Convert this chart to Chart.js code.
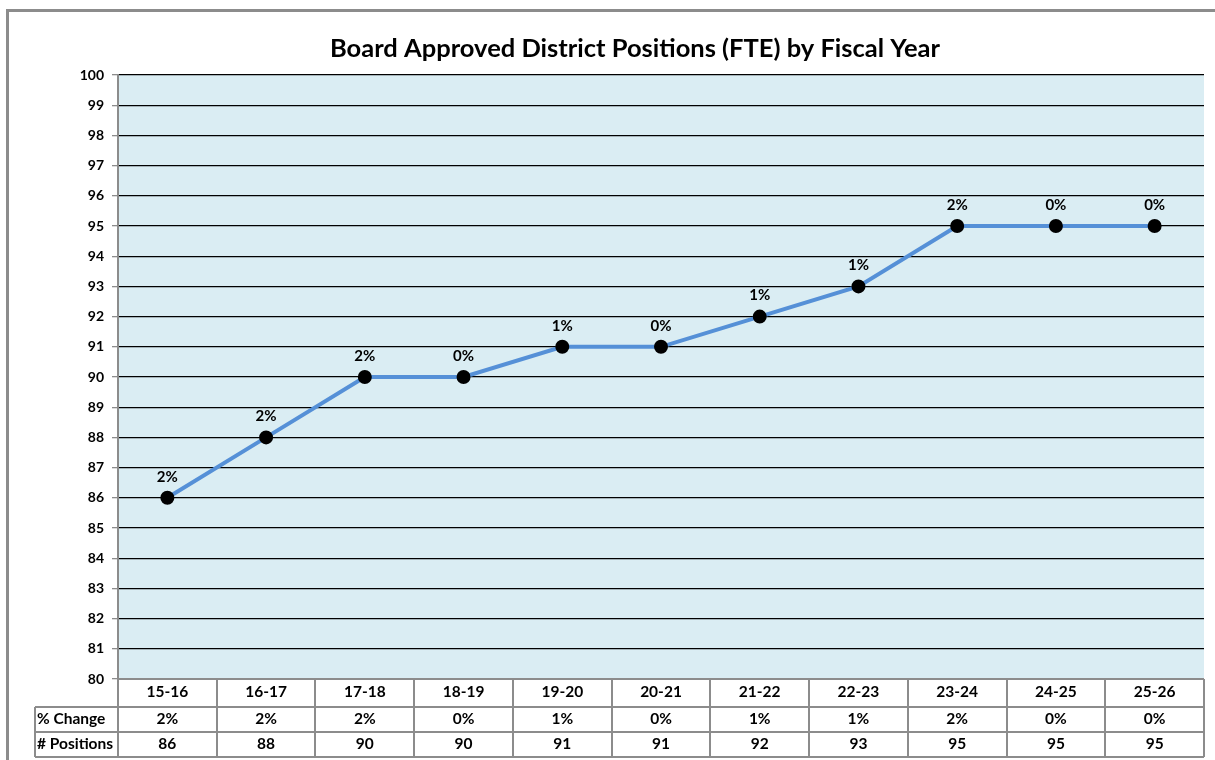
<!DOCTYPE html>
<html>
<head>
<meta charset="utf-8">
<script src="https://cdn.jsdelivr.net/npm/chart.js@4.4.1/dist/chart.umd.min.js"></script>
<style>
  html, body { margin: 0; padding: 0; background: #fff; }
  #wrap { width: 1215px; height: 760px; }
</style>
</head>
<body>
<div id="wrap"><canvas id="myChart" width="1215" height="760"></canvas></div>
<script>
const years = ["15-16", "16-17", "17-18", "18-19", "19-20", "20-21", "21-22", "22-23", "23-24", "24-25", "25-26"];
const positions = [86, 88, 90, 90, 91, 91, 92, 93, 95, 95, 95];
const pctChange = ["2%", "2%", "2%", "0%", "1%", "0%", "1%", "1%", "2%", "0%", "0%"];
const rowLabels = ["% Change", "# Positions"];
const chartTitle = "Board Approved District Positions (FTE) by Fiscal Year";

const FONT = "Lato, 'Liberation Sans', sans-serif";

// frame, title, point labels and the data table under the plot
const extras = {
  id: "extras",
  beforeDraw(chart) {
    const c = chart.ctx;
    const a = chart.chartArea;
    c.save();
    c.fillStyle = "#fff";
    c.fillRect(0, 0, chart.width, chart.height);
    c.fillStyle = "#DAEDF3";
    c.fillRect(a.left, a.top, a.right - a.left, a.bottom - a.top);
    c.strokeStyle = "#8c8c8c";
    c.lineWidth = 3;
    c.beginPath();
    c.moveTo(7.5, chart.height);
    c.lineTo(7.5, 10.5);
    c.lineTo(chart.width, 10.5);
    c.stroke();
    c.restore();
  },
  afterDraw(chart) {
    const c = chart.ctx;
    const a = chart.chartArea;
    const x = chart.scales.x;
    const y = chart.scales.y;
    c.save();
    c.fillStyle = "#000";
    c.textAlign = "center";
    c.textBaseline = "middle";
    c.font = "bold 25.5px " + FONT;
    c.fillText(chartTitle, 635, 49);

    // labels above points
    c.font = "bold 15px " + FONT;
    positions.forEach((v, i) => {
      c.fillText(pctChange[i], x.getPixelForValue(i), y.getPixelForValue(v) - 21);
    });

    // table
    const colW = (a.right - a.left) / years.length;
    const rows = [a.bottom, 707, 732, 757];
    const tableLeft = 35;
    c.strokeStyle = "#8c8c8c";
    c.lineWidth = 2;
    c.beginPath();
    for (let r = 0; r < rows.length; r++) {
      const left = r === 0 ? a.left : tableLeft;
      c.moveTo(left, rows[r]);
      c.lineTo(a.right, rows[r]);
    }
    for (let i = 0; i <= years.length; i++) {
      const px = Math.round(a.left + i * colW);
      c.moveTo(px, rows[0]);
      c.lineTo(px, rows[3]);
    }
    c.moveTo(tableLeft, rows[1]);
    c.lineTo(tableLeft, rows[3]);
    c.stroke();

    c.font = "bold 15.5px " + FONT;
    years.forEach((yr, i) => {
      const cx = x.getPixelForValue(i);
      c.fillText(yr, cx, (rows[0] + rows[1]) / 2 - 1);
      c.fillText(pctChange[i], cx, (rows[1] + rows[2]) / 2 - 1);
      c.fillText(String(positions[i]), cx, (rows[2] + rows[3]) / 2 - 1);
    });
    c.textAlign = "left";
    c.fillText(rowLabels[0], tableLeft + 2, (rows[1] + rows[2]) / 2 - 1);
    c.fillText(rowLabels[1], tableLeft + 2, (rows[2] + rows[3]) / 2 - 1);
    c.restore();
  }
};

new Chart(document.getElementById("myChart").getContext("2d"), {
  type: "line",
  data: {
    labels: years,
    datasets: [{
      data: positions,
      borderColor: "#5590D7",
      borderWidth: 4,
      pointBackgroundColor: "#000",
      pointBorderColor: "#000",
      pointRadius: 5,
      tension: 0,
    }],
  },
  options: {
    responsive: false,
    animation: false,
    layout: { padding: { left: 0, top: 75, right: 11, bottom: 81 } },
    plugins: {
      legend: { display: false },
      title: { display: false },
      tooltip: { enabled: false },
    },
    scales: {
      x: {
        offset: true,
        display: false,
        grid: { display: false },
      },
      y: {
        min: 80,
        max: 100,
        afterFit(s) { s.width = 118; },
        ticks: {
          stepSize: 1,
          color: "#000",
          padding: 8,
          font: { family: FONT, size: 14, weight: "bold" },
        },
        grid: {
          color: "#000",
          lineWidth: 1.3,
          tickColor: "#8c8c8c",
          tickLength: 6,
        },
        border: { color: "#8c8c8c", width: 2 },
      },
    },
  },
  plugins: [extras],
});
</script>
</body>
</html>
